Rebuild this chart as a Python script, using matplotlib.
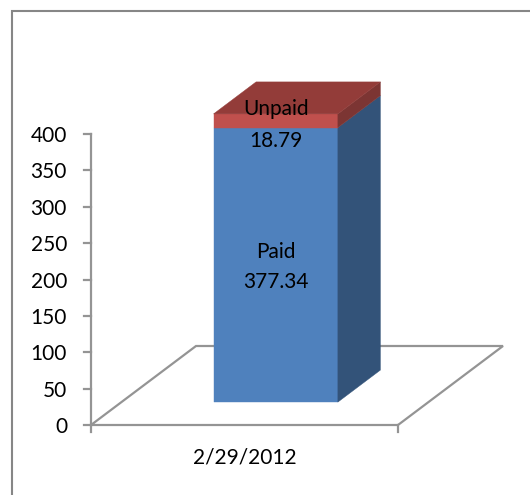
import matplotlib
matplotlib.use("Agg")
import matplotlib.pyplot as plt
from matplotlib.patches import Polygon

plt.rcParams['font.family'] = ['Lato', 'DejaVu Sans']

category = "2/29/2012"
series_names = ["Paid", "Unpaid"]
series_values = [377.34, 18.79]
y_ticks = [0, 50, 100, 150, 200, 250, 300, 350, 400]

W, H = 530, 495
PX_PER_UNIT = 0.7275
CAT_PX = 307
X0, Y0 = 91, 425
DX, DY = 105, 79
GRAY = "#949494"
FRAME = "#868686"
TXT = "#000000"
FS = 15

fig = plt.figure(figsize=(W / 100, H / 100), dpi=100, facecolor="white")
ax = fig.add_axes([0, 0, 1, 1])
ax.set_xlim(-X0 / CAT_PX, (W - X0) / CAT_PX)
ax.set_ylim((Y0 - H) / PX_PER_UNIT, Y0 / PX_PER_UNIT)
ax.axis("off")


def proj(c, v, d):
    """Oblique projection: category position, value, depth fraction."""
    return c + d * DX / CAT_PX, v + d * DY / PX_PER_UNIT


def face(pts, color, z):
    ax.add_patch(Polygon([proj(*p) for p in pts], closed=True, facecolor=color,
                         edgecolor=color, linewidth=0.3, zorder=z))


def line(pts, lw=1.5, color=GRAY, z=1):
    xs, ys = zip(*[proj(*p) for p in pts])
    ax.plot(xs, ys, color=color, lw=lw, zorder=z, solid_capstyle="butt",
            solid_joinstyle="miter")


# floor
line([(0, 0, 0), (1, 0, 0), (1, 0, 1), (0, 0, 1), (0, 0, 0)], lw=1.6)
# category axis ticks
for c in (0, 1):
    ax.plot([c, c], [0, -7 / PX_PER_UNIT], color=GRAY, lw=1.6, zorder=1)
# value axis
ax.plot([0, 0], [0, y_ticks[-1]], color=GRAY, lw=1.6, zorder=1)
tick_len = 7 / CAT_PX
for t in y_ticks:
    ax.plot([-tick_len, 0], [t, t], color=GRAY, lw=1.6, zorder=1)
    ax.text(-24 / CAT_PX, t, str(t), ha="right", va="center_baseline",
            fontsize=FS, color=TXT)

# 3D stacked bar
c0, c1 = 0.30, 0.705
d0, d1 = 0.29, 0.695
colors = [("#4F81BD", "#335379"), ("#C0504D", "#7C3533")]
top_color = "#933C39"
base = 0
for val, (front, side) in zip(series_values, colors):
    top = base + val
    face([(c0, base, d0), (c1, base, d0), (c1, top, d0), (c0, top, d0)], front, 3)
    face([(c1, base, d0), (c1, base, d1), (c1, top, d1), (c1, top, d0)], side, 3)
    base = top
face([(c0, base, d0), (c1, base, d0), (c1, base, d1), (c0, base, d1)], top_color, 4)

# data labels (offsets in pixels from the middle of each segment)
cx, _ = proj((c0 + c1) / 2, 0, d0)
base = 0
for name, val, up, down in zip(series_names, series_values, (15, 14), (15, 18)):
    _, ym = proj(0, base + val / 2, d0)
    ax.text(cx, ym + up / PX_PER_UNIT, name, ha="center", va="center_baseline",
            fontsize=FS, color=TXT, zorder=6)
    ax.text(cx, ym - down / PX_PER_UNIT, f"{val:.2f}", ha="center", va="center_baseline",
            fontsize=FS, color=TXT, zorder=6)
    base += val

# category label
ax.text(0.5, -31 / PX_PER_UNIT, category, ha="center", va="center_baseline",
        fontsize=FS, color=TXT)

# chart frame
bx = [11.5, 11.5, W]
by = [H, 10.5, 10.5]
ax.plot([(x - X0) / CAT_PX for x in bx],
        [(Y0 - y) / PX_PER_UNIT for y in by], color=FRAME, lw=1.5, zorder=1,
        solid_joinstyle="miter")

fig.savefig("out.png", dpi=100, facecolor="white")
